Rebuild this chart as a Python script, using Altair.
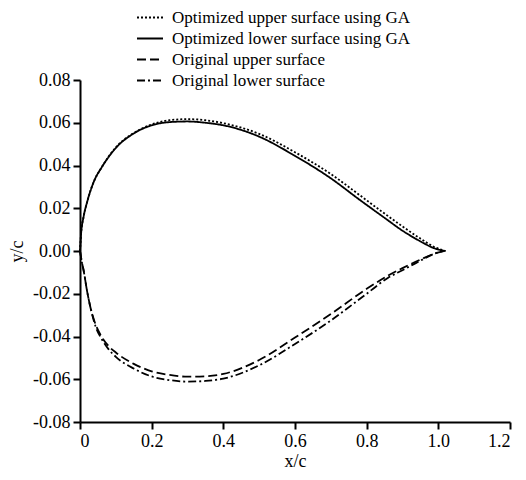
import altair as alt
import pandas as pd

# Optimized upper surface using GA (dotted)
opt_up_x = [0.0, 0.003, 0.01, 0.02, 0.04, 0.06, 0.1, 0.15, 0.2, 0.25, 0.3, 0.35, 0.4, 0.5, 0.6, 0.7, 0.78, 0.85, 0.9, 0.95, 0.99, 1.02]
opt_up_y = [0.0, 0.008, 0.016, 0.023, 0.033, 0.039, 0.0485, 0.0552, 0.0592, 0.0612, 0.0617, 0.0612, 0.0598, 0.0548, 0.0462, 0.0360, 0.0262, 0.0175, 0.0115, 0.0058, 0.0018, 0.0]

# Optimized lower surface using GA (solid)
opt_lo_x = [0.0, 0.003, 0.01, 0.02, 0.04, 0.06, 0.1, 0.15, 0.2, 0.25, 0.3, 0.35, 0.4, 0.5, 0.6, 0.7, 0.78, 0.85, 0.9, 0.95, 0.99, 1.02]
opt_lo_y = [0.0, 0.008, 0.016, 0.023, 0.033, 0.039, 0.0482, 0.0550, 0.0588, 0.0603, 0.0606, 0.0600, 0.0588, 0.0535, 0.0445, 0.0340, 0.0240, 0.0155, 0.0095, 0.0045, 0.0012, 0.0]

# Original upper surface (dashed)
org_up_x = [0.0, 0.005, 0.01, 0.02, 0.03, 0.045, 0.06, 0.08, 0.1, 0.15, 0.2, 0.25, 0.3, 0.35, 0.4, 0.5, 0.6, 0.7, 0.8, 0.86, 0.9, 0.95, 0.99, 1.015]
org_up_y = [0.0, -0.005, -0.009, -0.019, -0.027, -0.035, -0.040, -0.0445, -0.0475, -0.0528, -0.0563, -0.0580, -0.0588, -0.0586, -0.0575, -0.0510, -0.0405, -0.0295, -0.0177, -0.0115, -0.0080, -0.0040, -0.0012, 0.0]

# Original lower surface (dash-dot)
org_lo_x = [0.0, 0.005, 0.01, 0.02, 0.03, 0.045, 0.06, 0.08, 0.1, 0.15, 0.2, 0.25, 0.3, 0.35, 0.4, 0.5, 0.6, 0.7, 0.8, 0.86, 0.9, 0.95, 0.99, 1.015]
org_lo_y = [0.0, -0.005, -0.009, -0.019, -0.027, -0.036, -0.041, -0.046, -0.0495, -0.0550, -0.0587, -0.0604, -0.0611, -0.0608, -0.0597, -0.0535, -0.0435, -0.0325, -0.0200, -0.0125, -0.0090, -0.0045, -0.0012, 0.0]

series_names = [
    "Optimized upper surface using GA",
    "Optimized lower surface using GA",
    "Original upper surface",
    "Original lower surface",
]
dashes = [[2, 2], [1, 0], [9, 4], [8, 3, 2, 3]]

rows = []
for name, xs, ys in zip(series_names,
                        [opt_up_x, opt_lo_x, org_up_x, org_lo_x],
                        [opt_up_y, opt_lo_y, org_up_y, org_lo_y]):
    for i, (xv, yv) in enumerate(zip(xs, ys)):
        rows.append({"series": name, "x": xv, "y": yv, "order": i})
df = pd.DataFrame(rows)

font = "Times New Roman, Liberation Serif, serif"

chart = alt.Chart(df).mark_line(color="black", strokeWidth=1.8, interpolate="monotone").encode(
    x=alt.X("x:Q", scale=alt.Scale(domain=[0, 1.2], nice=False),
            axis=alt.Axis(title="x/c", values=[0, 0.2, 0.4, 0.6, 0.8, 1.0, 1.2],
                          labelExpr="datum.value == 0 ? '0' : format(datum.value, '.1f')")),
    y=alt.Y("y:Q", scale=alt.Scale(domain=[-0.08, 0.08], nice=False),
            axis=alt.Axis(title="y/c", values=[-0.08, -0.06, -0.04, -0.02, 0, 0.02, 0.04, 0.06, 0.08],
                          labelExpr="replace(format(datum.value, '.2f'), '\u2212', '-')")),
    strokeDash=alt.StrokeDash("series:N", sort=series_names,
                              scale=alt.Scale(domain=series_names, range=dashes),
                              legend=alt.Legend(title=None, orient="none", legendX=56, legendY=-72,
                                                symbolType="stroke", symbolSize=676, clipHeight=19,
                                                symbolStrokeColor="black", symbolStrokeWidth=1.8,
                                                labelFont=font, labelFontSize=17, labelColor="black",
                                                labelLimit=400, rowPadding=2, labelOffset=8)),
    order="order:Q",
    detail="series:N",
).properties(
    width=430, height=342,
    autosize=alt.AutoSizeParams(type="none"),
    padding={"left": 72, "top": 72, "right": 8, "bottom": 50},
).configure_axis(
    grid=False, domainColor="black", domainWidth=2, tickColor="black", tickWidth=2,
    tickSize=7, labelFont=font, labelFontSize=18, labelColor="black",
    titleFont=font, titleFontSize=18, titleFontWeight="normal", titleColor="black",
    labelPadding=3,
).configure_axisY(titlePadding=6).configure_axisX(titlePadding=2).configure_view(stroke=None)

chart.save("out.html", embed_options={"renderer": "svg", "actions": False})
